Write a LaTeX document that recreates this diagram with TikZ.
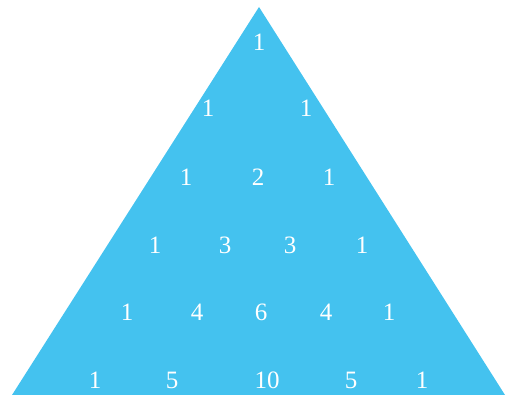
\documentclass[tikz,border=0pt]{standalone}
\usepackage{fontspec}
\setmainfont{Liberation Serif}
\usetikzlibrary{positioning}
\definecolor{pascalblue}{RGB}{68,194,239}

\begin{document}
\begin{tikzpicture}[
    x=1pt, y=-1pt,
    every node/.style={font=\fontsize{25}{25}\selectfont},
    entry/.style={text=white, inner sep=0pt}
  ]
    \useasboundingbox (0,0) rectangle (508,395);
    % the triangle
    \fill[pascalblue] (259,7) coordinate (apex) -- (505,395) coordinate (right)
      -- (12,395) coordinate (left) -- cycle;

    % rows of numbers
    \foreach \name/\val/\x/\y in {
        r0c0/1/259/42,
        r1c0/1/208/108, r1c1/1/306/108,
        r2c0/1/186/177, r2c1/2/258/177, r2c2/1/329/177,
        r3c0/1/155/245, r3c1/3/225/245, r3c2/3/290/245, r3c3/1/362/245,
        r4c0/1/127/312, r4c1/4/197/312, r4c2/6/261/312, r4c3/4/326/312,
          r4c4/1/389/312,
        r5c0/1/95/380, r5c1/5/172/380, r5c2/10/267/380, r5c3/5/351/380,
          r5c4/1/422/380}
      \node[entry] (\name) at (\x,\y) {\val};
\end{tikzpicture}
\end{document}
